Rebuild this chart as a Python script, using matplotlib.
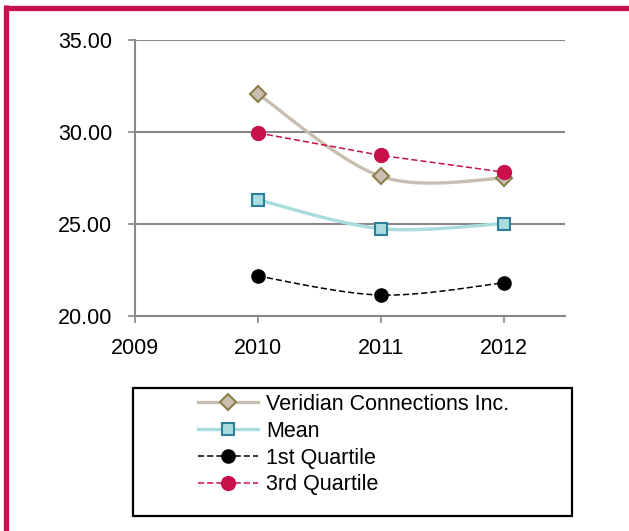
import matplotlib
matplotlib.use("Agg")
import matplotlib.pyplot as plt
from matplotlib.lines import Line2D
from matplotlib.patches import Rectangle
import numpy as np

plt.rcParams['font.family'] = ['Liberation Sans', 'DejaVu Sans']

# data
years = [2010, 2011, 2012]
veridian = [32.07, 27.59, 27.48]
mean_vals = [26.32, 24.75, 25.02]
q1_vals = [22.17, 21.14, 21.80]
q3_vals = [29.95, 28.73, 27.82]

y_ticks = [20, 25, 30, 35]
x_ticks = [2009, 2010, 2011, 2012]

RED = "#C8104A"
GRID = "#888888"


def smooth_curve(ax, xs, ys, n=40):
    # Excel style smoothed line (bezier through points), done in display space
    pts = ax.transData.transform(np.column_stack([xs, ys]))
    out = []
    for i in range(len(pts) - 1):
        p0 = pts[i - 1] if i > 0 else pts[i]
        p1 = pts[i]
        p2 = pts[i + 1]
        p3 = pts[i + 2] if i + 2 < len(pts) else pts[i + 1]
        c1 = p1 + (p2 - p0) / 6
        c2 = p2 - (p3 - p1) / 6
        t = np.linspace(0, 1, n)[:, None]
        seg = ((1 - t) ** 3) * p1 + 3 * ((1 - t) ** 2) * t * c1 + 3 * (1 - t) * t ** 2 * c2 + t ** 3 * p2
        out.append(seg if i == 0 else seg[1:])
    out = ax.transData.inverted().transform(np.vstack(out))
    return out[:, 0], out[:, 1]


fig = plt.figure(figsize=(6.29, 5.31), dpi=100)
W, H = 629, 531
ax = fig.add_axes([135 / W, 1 - 316 / H, (565 - 135) / W, (316 - 40) / H])

ax.set_xlim(2009, 2012.5)
ax.set_ylim(20, 35)
ax.set_yticks(y_ticks)
ax.set_yticklabels([f"{v:.2f}" for v in y_ticks])
ax.set_xticks(x_ticks)
ax.set_xticklabels([str(v) for v in x_ticks])
ax.yaxis.grid(True, color=GRID, linewidth=1.5)
ax.set_axisbelow(True)
for s in ["top", "right"]:
    ax.spines[s].set_visible(False)
for s in ["left", "bottom"]:
    ax.spines[s].set_color(GRID)
    ax.spines[s].set_linewidth(1.5)
ax.tick_params(axis="both", colors=GRID, labelcolor="black", labelsize=15.5,
               width=1.2, length=5, direction="out")
ax.tick_params(axis="y", pad=11.5)
ax.tick_params(axis="x", pad=11)

# lines
sx, sy = smooth_curve(ax, years, veridian)
ax.plot(sx, sy, color="#C9BFB1", lw=2.4, zorder=3)
ax.plot(years, veridian, "D", ms=8, mfc="#C9BFB1", mec="#8C7F4C", mew=1.5, zorder=5)

sx, sy = smooth_curve(ax, years, mean_vals)
ax.plot(sx, sy, color="#A8DCDF", lw=2.4, zorder=3)
ax.plot(years, mean_vals, "s", ms=9, mfc="#A8DCDF", mec="#2D7F99", mew=1.5, zorder=5)

sx, sy = smooth_curve(ax, years, q1_vals)
ax.plot(sx, sy, color="black", lw=1.1, ls=(0, (4, 2)), zorder=3)
ax.plot(years, q1_vals, "o", ms=9.5, color="black", zorder=5)

ax.plot(years, q3_vals, color=RED, lw=1.1, ls=(0, (4, 2)), zorder=3)
ax.plot(years, q3_vals, "o", ms=10, color=RED, zorder=5)

# legend
handles = [
    Line2D([], [], color="#C9BFB1", lw=2.4, marker="D", ms=8, mfc="#C9BFB1", mec="#8C7F4C", mew=1.5),
    Line2D([], [], color="#A8DCDF", lw=2.4, marker="s", ms=9, mfc="#A8DCDF", mec="#2D7F99", mew=1.5),
    Line2D([], [], color="black", lw=1.1, ls=(0, (4, 2)), marker="o", ms=9.5),
    Line2D([], [], color=RED, lw=1.1, ls=(0, (4, 2)), marker="o", ms=10),
]
labels = ["Veridian Connections Inc.", "Mean", "1st Quartile", "3rd Quartile"]
fig.legend(handles, labels, loc="upper left", bbox_to_anchor=(198 / W, 1 - 394 / H),
           frameon=False, fontsize=15.5, handlelength=2.8, handletextpad=0.37,
           labelspacing=0.27, borderpad=0, borderaxespad=0)
fig.patches.append(Rectangle((133 / W, 1 - 516 / H), (572 - 133) / W, (516 - 388) / H,
                             transform=fig.transFigure, fill=False, ec="black", lw=1.6))

# red border on left and top
fig.add_artist(Line2D([6.5 / W, 6.5 / W], [0, 1 - 5 / H], transform=fig.transFigure,
                      color=RED, lw=3.8, solid_capstyle="butt"))
fig.add_artist(Line2D([4 / W, 1], [1 - 7.5 / H, 1 - 7.5 / H], transform=fig.transFigure,
                      color=RED, lw=3.8, solid_capstyle="butt"))

fig.savefig("out.png", dpi=100)
